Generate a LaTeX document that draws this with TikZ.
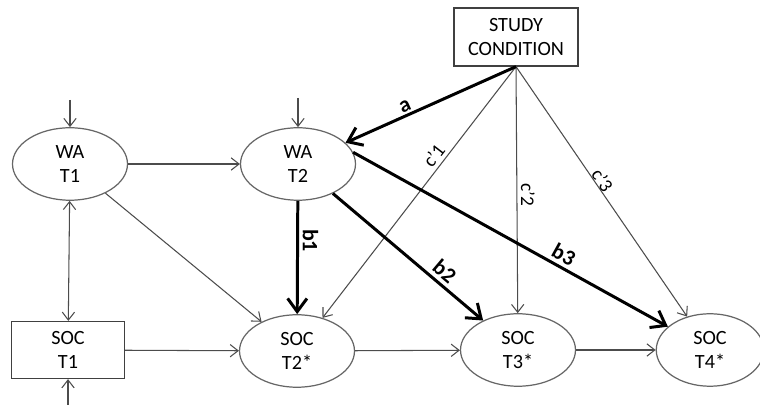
\documentclass[tikz,border=0pt]{standalone}
\usepackage{fontspec}
\setsansfont{Carlito}
\usetikzlibrary{arrows.meta,shapes.geometric}

\begin{document}
\begin{tikzpicture}[x=0.02cm,y=0.02cm,>={Straight Barb[length=4.5pt,width=7pt]},
                        font=\sffamily,
                        lat node/.style={ellipse,draw=black!60,line width=0.7pt,minimum width=2.3cm,minimum height=1.45cm,
                          align=center,font=\sffamily\fontsize{11.5}{13.5}\selectfont},
                        obs node/.style={rectangle,draw=black!75,line width=0.7pt,minimum width=2.26cm,minimum height=1.14cm,
                          align=center,font=\sffamily\fontsize{11.5}{13.5}\selectfont},
                        thin path/.style={->,draw=black!70,line width=0.6pt},
                        main path/.style={-{Straight Barb[length=7.5pt,width=11pt]},draw=black,line width=1.7pt},
                        weight/.style={font=\sffamily\bfseries\fontsize{12.5}{14}\selectfont,inner sep=2pt},
                        direct/.style={font=\sffamily\fontsize{11}{12}\selectfont,inner sep=2pt}]

      \useasboundingbox (0,0) rectangle (760,405);

      \node[obs node,minimum width=2.48cm,minimum height=1.16cm] (sc) at (516,368) {STUDY\\CONDITION};
      \node[lat node] (wa1) at (70,241) {WA\\T1};
      \node[lat node] (wa2) at (298,241) {WA\\T2};
      \node[obs node] (soc1) at (68,55) {SOC\\T1};
      \node[lat node] (soc2) at (297,54) {SOC\\T2*};
      \node[lat node] (soc3) at (518,55) {SOC\\T3*};
      \node[lat node,minimum width=2.15cm] (soc4) at (710,55) {SOC\\T4*};

      % residuals
      \coordinate (e1) at (70,305);
      \coordinate (e2) at (298,307);
      \coordinate (e3) at (68,0);
      \draw[thin path] (e1) -- (wa1);
      \draw[thin path] (e2) -- (wa2);
      \draw[thin path] (e3) -- (soc1);

      \draw[thin path] (wa1) -- (wa2);
      \draw[thin path,<->] (wa1) -- (soc1);
      \draw[thin path] (wa1) -- (soc2);
      \draw[thin path] (soc1) -- (soc2);
      \draw[thin path] (soc2) -- (soc3);
      \draw[thin path] (soc3) -- (soc4);

      \draw[thin path] (sc.south) -- node[direct,sloped,above,pos=0.38] {c'1} (soc2);
      \draw[thin path] (sc.south) -- node[direct,rotate=-90,above,pos=0.52] {c'2} (soc3);
      \draw[thin path] (sc.south) -- node[direct,sloped,above,pos=0.47,inner sep=0pt] {c'3} (soc4);

      \draw[main path] (sc.south) -- node[weight,sloped,above,pos=0.63,inner sep=1pt] {a} (wa2);
      \draw[main path] (wa2) -- node[weight,rotate=-90,above,pos=0.35] {b1} (soc2);
      \draw[main path] (wa2) -- node[weight,sloped,above,pos=0.69] {b2} (soc3);
      \draw[main path] (wa2.12) -- node[weight,sloped,above,pos=0.65] {b3} (soc4);
    \end{tikzpicture}
\end{document}
